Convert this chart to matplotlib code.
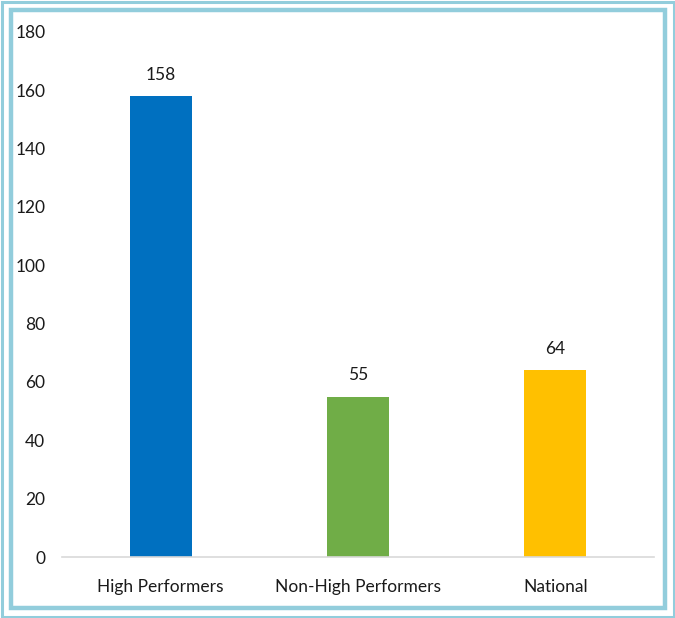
import matplotlib
matplotlib.use('Agg')
import matplotlib.pyplot as plt
from matplotlib.patches import Rectangle

categories = ['High Performers', 'Non-High Performers', 'National']
values = [158, 55, 64]
bar_colors = ['#0070C0', '#70AD47', '#FFC000']
yticks = [0, 20, 40, 60, 80, 100, 120, 140, 160, 180]

W, H = 675, 618
DPI = 100
plt.rcParams['font.family'] = ['Lato', 'DejaVu Sans']

fig = plt.figure(figsize=(W / DPI, H / DPI), dpi=DPI)
ax = fig.add_axes([62 / W, (H - 557) / H, (654 - 62) / W, (557 - 32) / H])

x = range(len(categories))
bars = ax.bar(x, values, width=0.315, color=bar_colors, zorder=2)
for b, v in zip(bars, values):
    ax.text(b.get_x() + b.get_width() / 2, v + 4.5, str(v), ha='center', va='bottom',
            fontsize=12.5, color='#1a1a1a')

ax.set_xlim(-0.5, len(categories) - 0.5)
ax.set_ylim(0, 180)
ax.set_yticks(yticks)
ax.set_xticks(list(x))
ax.set_xticklabels(categories)
ax.tick_params(axis='y', length=0, pad=12, labelsize=12.5, labelcolor='#1a1a1a')
ax.tick_params(axis='x', length=0, pad=16, labelsize=12.5, labelcolor='#1a1a1a')
for s in ['top', 'right', 'left']:
    ax.spines[s].set_visible(False)
ax.spines['bottom'].set_color('#d9d9d9')
ax.spines['bottom'].set_linewidth(1.2)

border = '#92CDDC'
fig.patches.append(Rectangle((1.5 / W, 1.5 / H), (W - 3) / W, (H - 3) / H,
                             transform=fig.transFigure, fill=False,
                             edgecolor=border, linewidth=2.2))
fig.patches.append(Rectangle((10.5 / W, 10 / H), (W - 21) / W, (H - 20) / H,
                             transform=fig.transFigure, fill=False,
                             edgecolor=border, linewidth=3.2))

fig.savefig('out.png', dpi=DPI)
